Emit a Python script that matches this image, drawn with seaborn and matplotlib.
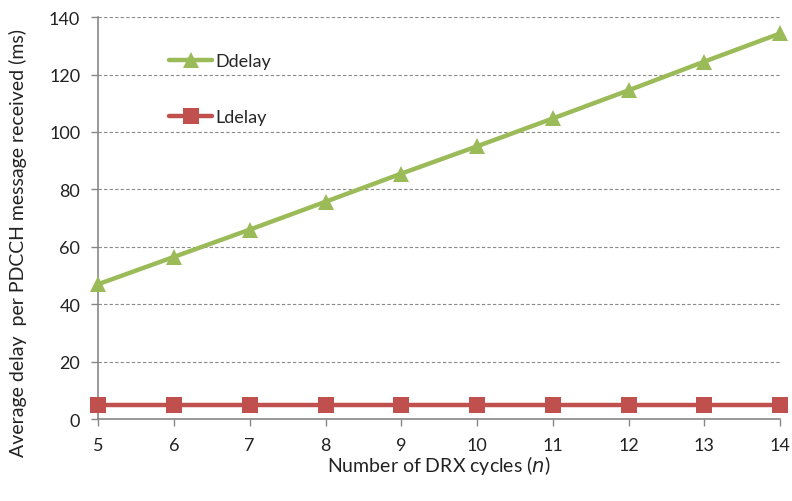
import numpy as np
import pandas as pd
import matplotlib
matplotlib.use("Agg")
import matplotlib.pyplot as plt
import seaborn as sns

cycles = [5, 6, 7, 8, 9, 10, 11, 12, 13, 14]
ddelay = [47, 56.5, 66, 75.7, 85.5, 95, 104.7, 114.5, 124.5, 134.3]
ldelay = [5, 5, 5, 5, 5, 5, 5, 5, 5, 5]
series_names = ["Ddelay", "Ldelay"]
y_ticks = [0, 20, 40, 60, 80, 100, 120, 140]

sns.set_theme(style="white")
plt.rcParams['font.family'] = ['Lato', 'DejaVu Sans']

df = pd.DataFrame({
    "n": cycles * 2,
    "delay": ddelay + ldelay,
    "series": [series_names[0]] * len(cycles) + [series_names[1]] * len(cycles),
})

fig = plt.figure(figsize=(7.92, 5.02), dpi=100)
ax = fig.add_axes([0.124, 0.163, 0.861, 0.801])

palette = {"Ddelay": "#9BBB59", "Ldelay": "#C0504D"}
markers = {"Ddelay": "^", "Ldelay": "s"}
sns.lineplot(data=df, x="n", y="delay", hue="series", style="series",
             palette=palette, markers=markers, dashes=False, linewidth=3.2,
             markersize=11, markeredgewidth=0, ax=ax, clip_on=False, zorder=3)

ax.set_xlim(5, 14)
ax.set_ylim(0, 140)
ax.set_xticks(cycles)
ax.set_yticks(y_ticks)
ax.tick_params(axis='both', labelsize=13, colors='#333333', length=5, width=1,
               direction='out', pad=8)
ax.tick_params(axis='x', bottom=True, color='#888888')
ax.tick_params(axis='y', left=True, color='#888888', length=5)
for lab in ax.get_xticklabels() + ax.get_yticklabels():
    lab.set_color('#222222')

ax.yaxis.grid(True, linestyle=(0, (3, 2)), color='#8a8a8a', linewidth=0.8)
ax.xaxis.grid(False)
for s in ['top', 'right']:
    ax.spines[s].set_visible(False)
for s in ['left', 'bottom']:
    ax.spines[s].set_color('#888888')
    ax.spines[s].set_linewidth(1.2)

ax.set_xlabel("Number of DRX cycles ($\\it{n}$)", fontsize=14, color='#222222', labelpad=0)
ax.set_ylabel("Average delay  per PDCCH message received (ms)", fontsize=14,
              color='#222222', labelpad=6)
ax.yaxis.set_label_coords(-0.105, 0.44)

leg = ax.legend(loc='upper left', bbox_to_anchor=(0.08, 0.95), frameon=False,
                fontsize=13, labelspacing=2.2, handlelength=2.4, handletextpad=0.15,
                title=None)
for h in leg.legend_handles:
    h.set_linewidth(3.2)

fig.savefig("out.png", dpi=100)
